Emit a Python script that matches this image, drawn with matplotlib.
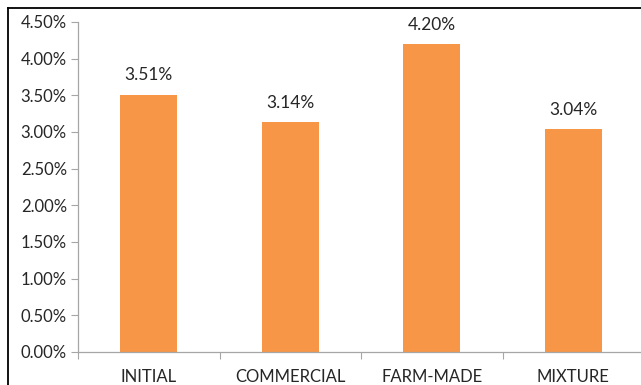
import matplotlib
matplotlib.use("Agg")
import matplotlib.pyplot as plt
from matplotlib.lines import Line2D
from matplotlib.ticker import FuncFormatter, MultipleLocator

# feed type vs value (%)
categories = ["INITIAL", "COMMERCIAL", "FARM-MADE", "MIXTURE"]
values = [3.51, 3.14, 4.20, 3.04]

plt.rcParams['font.family'] = ['Lato', 'DejaVu Sans']

fig = plt.figure(figsize=(6.41, 3.85), dpi=100)
ax = fig.add_axes([78 / 641, 1 - 352 / 385, 566 / 641, (352 - 22) / 385])

x = range(len(categories))
ax.bar(x, values, width=0.4, color="#F79646", zorder=2)

for i, v in enumerate(values):
    ax.annotate("%.2f%%" % v, (i, v), xytext=(0, 8), textcoords="offset points",
                ha="center", va="bottom", fontsize=12.5, color="#262626")

ax.set_ylim(0, 4.5)
ax.set_xlim(-0.5, 3.5)
ax.yaxis.set_major_locator(MultipleLocator(0.5))
ax.yaxis.set_major_formatter(FuncFormatter(lambda v, p: "%.2f%%" % v))

# category labels centred, ticks on boundaries
ax.set_xticks([-0.5, 0.5, 1.5, 2.5, 3.5])
ax.set_xticklabels([])
ax.set_xticks(list(x), minor=True)
ax.set_xticklabels(categories, minor=True)
ax.tick_params(axis="x", which="minor", length=0, pad=12, labelsize=12, labelcolor="#262626")
ax.tick_params(axis="x", which="major", length=5, color="#A6A6A6", direction="out")
ax.tick_params(axis="y", length=5, color="#A6A6A6", labelsize=12, labelcolor="#262626", pad=3)

for s in ["top", "right"]:
    ax.spines[s].set_visible(False)
for s in ["left", "bottom"]:
    ax.spines[s].set_color("#A6A6A6")
    ax.spines[s].set_linewidth(0.9)

# outer frame (left and top edges visible)
fig.add_artist(Line2D([8 / 641, 8 / 641], [0, 1 - 8 / 385], color="black", lw=1.3))
fig.add_artist(Line2D([8 / 641, 1], [1 - 8 / 385, 1 - 8 / 385], color="black", lw=1.3))

fig.savefig("out.png", dpi=100)
